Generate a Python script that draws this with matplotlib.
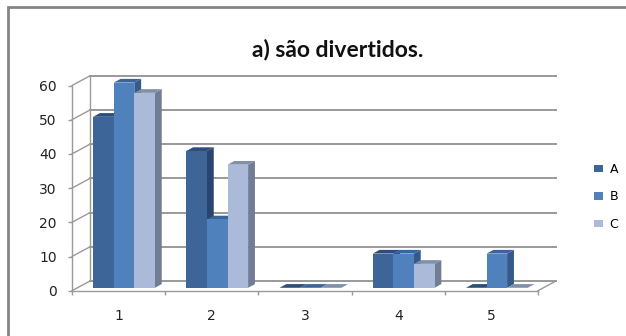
import matplotlib
matplotlib.use("Agg")
import matplotlib.pyplot as plt
from matplotlib.patches import Polygon, Patch, Rectangle

categories = ["1", "2", "3", "4", "5"]
series_names = ["A", "B", "C"]
values_A = [50, 40, 0, 10, 0]
values_B = [60, 20, 0, 10, 10]
values_C = [57, 36, 0, 7, 0]
y_ticks = [0, 10, 20, 30, 40, 50, 60]
title = "a) são divertidos."

series_values = [values_A, values_B, values_C]
front_cols = ["#3E6598", "#4F81BD", "#AABAD8"]
top_cols = ["#2E4D78", "#3B6598", "#8090AA"]
side_cols = ["#2A4670", "#355A89", "#717D94"]

W, H = 626, 336
fig = plt.figure(figsize=(W / 100, H / 100), dpi=100)
fig.patch.set_facecolor("white")

# outer border (chart area frame)
fig.add_artist(Rectangle((8 / W, -0.1), 1.2, (1 - 7 / H) + 0.1, transform=fig.transFigure,
                         fill=False, edgecolor="#858585", lw=2.0))

x0, x1 = 72, 538
y0, y1 = 290.7, 85.5
ax = fig.add_axes([x0 / W, (H - y0) / H, (x1 - x0) / W, (y0 - y1) / H])
ax.set_xlim(0.5, 5.5)
ax.set_ylim(0, 60)
ax.set_facecolor("none")

# depth vector in data units
DX = 18 / ((x1 - x0) / 5)
DY = 9.7 / ((y0 - y1) / 60)

grid_c = "#999999"
# back wall gridlines
for v in y_ticks:
    ax.plot([0.5 + DX, 5.5 + DX], [v + DY, v + DY], color=grid_c, lw=1.4, clip_on=False, zorder=1)
    ax.plot([0.5, 0.5 + DX], [v, v + DY], color=grid_c, lw=1.0, clip_on=False, zorder=1)
ax.plot([0.5 + DX, 0.5 + DX], [DY, 60 + DY], color=grid_c, lw=1.0, clip_on=False, zorder=1)
ax.plot([5.5, 5.5 + DX], [0, DY], color=grid_c, lw=1.0, clip_on=False, zorder=1)

# bars
bw = 20.6 / ((x1 - x0) / 5)
t0, tb = 0.3, 0.38
shift_x, shift_y = t0 * DX, t0 * DY
ddx, ddy = tb * DX, tb * DY
z = 3
for i, cat in enumerate(categories):
    c = i + 1
    left0 = c - 1.5 * bw + shift_x
    for j, vals in enumerate(series_values):
        v = vals[i]
        xl = left0 + j * bw
        xr = xl + bw
        yb = shift_y
        yt = v + shift_y
        side = Polygon([(xr, yb), (xr + ddx, yb + ddy), (xr + ddx, yt + ddy), (xr, yt)],
                       closed=True, facecolor=side_cols[j], edgecolor="none", clip_on=False, zorder=z)
        top = Polygon([(xl, yt), (xr, yt), (xr + ddx, yt + ddy), (xl + ddx, yt + ddy)],
                      closed=True, facecolor=top_cols[j], edgecolor="none", clip_on=False, zorder=z + 0.1)
        front = Polygon([(xl, yb), (xr, yb), (xr, yt), (xl, yt)],
                        closed=True, facecolor=front_cols[j], edgecolor="none", clip_on=False, zorder=z + 0.2)
        ax.add_patch(side)
        ax.add_patch(top)
        ax.add_patch(front)
        z += 1

# axes styling
for s in ["top", "right"]:
    ax.spines[s].set_visible(False)
for s in ["left", "bottom"]:
    ax.spines[s].set_color(grid_c)
    ax.spines[s].set_linewidth(1.0)
    ax.spines[s].set_zorder(2)

ax.set_yticks(y_ticks)
ax.set_yticklabels([str(v) for v in y_ticks])
ax.tick_params(axis="y", length=3, width=1.0, color=grid_c, pad=8, labelsize=10, labelcolor="#222222")
ax.set_xticks([k + 0.5 for k in range(6)])
ax.set_xticklabels([""] * 6)
ax.tick_params(axis="x", which="major", length=3, width=1.0, color=grid_c)
ax.set_xticks(range(1, 6), minor=True)
ax.set_xticklabels(categories, minor=True)
ax.tick_params(axis="x", which="minor", length=0, pad=13, labelsize=10, labelcolor="#222222")

fig.text(338 / W, 1 - 50 / H, title, ha="center", va="center", fontsize=16.5,
         fontweight="bold", family="Lato", color="#111111")

handles = [Patch(facecolor=front_cols[j], edgecolor="none") for j in range(3)]
fig.legend(handles, series_names, loc="center left", bbox_to_anchor=(594 / W, 1 - 197 / H),
           frameon=False, fontsize=9, labelspacing=1.15, handlelength=0.75, handleheight=0.55,
           handletextpad=0.5, borderpad=0, borderaxespad=0)

fig.savefig("out.png", dpi=100, facecolor="white")
